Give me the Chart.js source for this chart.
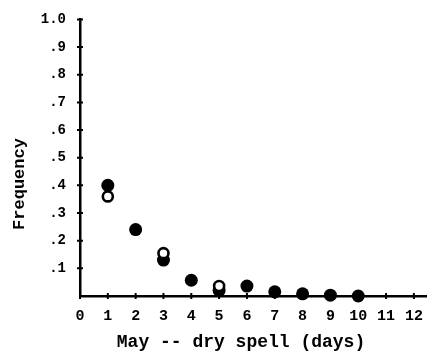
<!DOCTYPE html>
<html>
<head>
<meta charset="utf-8">
<script src="https://cdn.jsdelivr.net/npm/chart.js@4.4.1/dist/chart.umd.min.js"></script>
<style>
  html, body { margin: 0; padding: 0; background: #fff; }
  #wrap { width: 434px; height: 359px; }
</style>
</head>
<body>
<div id="wrap"><canvas id="c" width="434" height="359"></canvas></div>
<script>
// Length of dry spell in May (days) and observed frequencies
const spellDays = [1, 2, 3, 4, 5, 6, 7, 8, 9, 10];
const filledFreq = [0.40, 0.24, 0.13, 0.057, 0.02, 0.036, 0.015, 0.008, 0.003, 0.0];
const openDays = [1, 3, 5];
const openFreq = [0.36, 0.155, 0.036];

// Axis tick values and their printed labels
const xTickValues = [0, 1, 2, 3, 4, 5, 6, 7, 8, 9, 10, 11, 12];
const yTickValues = [0.1, 0.2, 0.3, 0.4, 0.5, 0.6, 0.7, 0.8, 0.9, 1.0];
const yTickLabels = ['.1', '.2', '.3', '.4', '.5', '.6', '.7', '.8', '.9', '1.0'];

const xTitle = 'May -- dry spell (days)';
const yTitle = 'Frequency';

const FONT = '"Liberation Mono", "DejaVu Sans Mono", monospace';

const toPoints = (xs, ys) => xs.map((x, i) => ({ x: x, y: ys[i] }));

// Axis captions drawn in the typewriter style of the figure,
// plus short tick marks that cross each axis line
const captions = {
  id: 'captions',
  afterDraw(chart) {
    const ctx = chart.ctx;
    const xs = chart.scales.x, ys = chart.scales.y;
    const area = chart.chartArea;
    ctx.save();
    ctx.strokeStyle = '#000';
    ctx.lineWidth = 2;
    ctx.beginPath();
    xTickValues.forEach(v => {
      const px = xs.getPixelForValue(v);
      ctx.moveTo(px, area.bottom - 3);
      ctx.lineTo(px, area.bottom + 3);
    });
    yTickValues.forEach(v => {
      const py = ys.getPixelForValue(v);
      ctx.moveTo(area.left - 3, py);
      ctx.lineTo(area.left + 3, py);
    });
    ctx.stroke();

    ctx.fillStyle = '#000';
    ctx.font = 'bold 18px ' + FONT;
    ctx.textAlign = 'center';
    ctx.textBaseline = 'middle';
    ctx.fillText(xTitle, 241, 342);
    ctx.translate(20, 184);
    ctx.rotate(-Math.PI / 2);
    ctx.font = 'bold 17px ' + FONT;
    ctx.fillText(yTitle, 0, 0);
    ctx.restore();
  }
};

const hiddenTicks = {
  display: true,
  drawOnChartArea: false,
  tickColor: 'rgba(0,0,0,0)'
};

new Chart(document.getElementById('c'), {
  type: 'scatter',
  data: {
    datasets: [
      {
        label: 'open',
        data: toPoints(openDays, openFreq),
        pointRadius: 5,
        pointBorderWidth: 2.6,
        pointBackgroundColor: '#fff',
        pointBorderColor: '#000',
        clip: false
      },
      {
        label: 'filled',
        data: toPoints(spellDays, filledFreq),
        pointRadius: 6.5,
        pointBorderWidth: 0,
        pointBackgroundColor: '#000',
        pointBorderColor: '#000',
        clip: false
      }
    ]
  },
  options: {
    responsive: false,
    animation: false,
    events: [],
    layout: { padding: { top: 16, right: 4, bottom: 0, left: 0 } },
    plugins: {
      legend: { display: false },
      tooltip: { enabled: false }
    },
    scales: {
      x: {
        type: 'linear',
        min: 0,
        max: 12.45,
        afterBuildTicks(scale) {
          scale.ticks = xTickValues.map(v => ({ value: v }));
        },
        afterFit(scale) { scale.height = 63; },
        border: { color: '#000', width: 2.5 },
        grid: Object.assign({ tickLength: 4 }, hiddenTicks),
        ticks: {
          color: '#000',
          padding: 7,
          maxRotation: 0,
          autoSkip: false,
          font: { family: FONT, size: 15, weight: 'bold' },
          callback: v => String(v)
        }
      },
      y: {
        type: 'linear',
        min: 0,
        max: 1.0,
        afterBuildTicks(scale) {
          scale.ticks = yTickValues.map(v => ({ value: v }));
        },
        afterFit(scale) { scale.width = 80; },
        border: { color: '#000', width: 2.5 },
        grid: Object.assign({ tickLength: 3 }, hiddenTicks),
        ticks: {
          color: '#000',
          padding: 11,
          autoSkip: false,
          font: { family: FONT, size: 14, weight: 'bold' },
          callback: (v, i) => yTickLabels[i]
        }
      }
    }
  },
  plugins: [captions]
});
</script>
</body>
</html>
